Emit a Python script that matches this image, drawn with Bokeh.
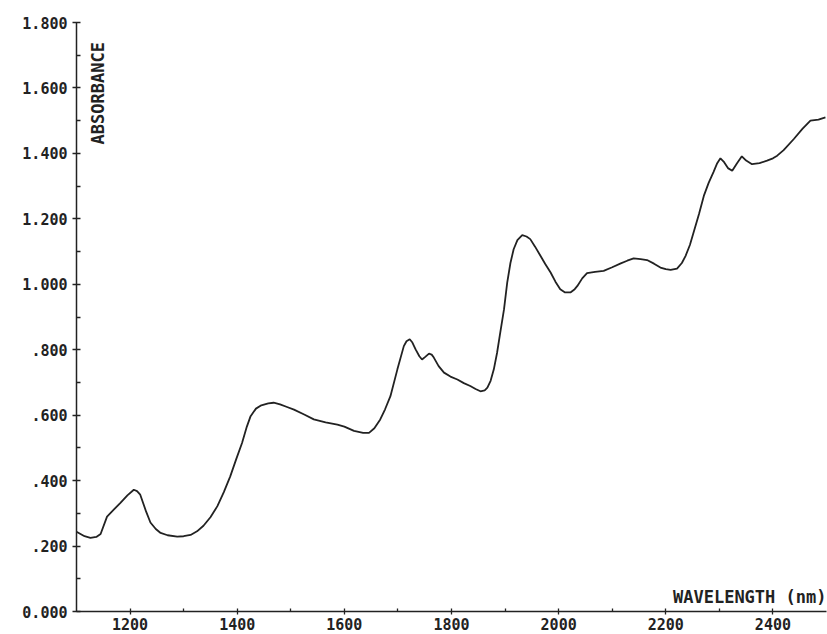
import math
from bokeh.plotting import figure
from bokeh.models import FixedTicker, Label, Range1d
from bokeh.embed import file_html
from bokeh.resources import INLINE

# ---- data ----
wavelength = [1100, 1115, 1126, 1137, 1145, 1157, 1170, 1182, 1195, 1207, 1213, 1219, 1230, 1238,
              1248, 1257, 1270, 1288, 1300, 1313, 1325, 1337, 1350, 1363, 1375, 1387, 1398, 1409,
              1418, 1425, 1435, 1445, 1458, 1468, 1480, 1493, 1506, 1525, 1543, 1565, 1587, 1600,
              1618, 1635, 1646, 1656, 1667, 1676, 1686, 1699, 1711, 1716, 1722, 1727, 1733, 1740,
              1745, 1751, 1758, 1763, 1767, 1776, 1786, 1798, 1811, 1823, 1835, 1845, 1854, 1862,
              1867, 1873, 1879, 1885, 1891, 1898, 1904, 1910, 1916, 1923, 1932, 1940, 1947, 1956,
              1966, 1975, 1985, 1994, 2003, 2012, 2022, 2030, 2035, 2044, 2053, 2068, 2084, 2100,
              2116, 2128, 2140, 2153, 2165, 2178, 2190, 2200, 2209, 2221, 2230, 2237, 2245, 2252,
              2262, 2271, 2280, 2289, 2296, 2302, 2308, 2316, 2324, 2333, 2342, 2350, 2361, 2375,
              2389, 2400, 2408, 2420, 2439, 2455, 2470, 2485, 2498]
absorbance = [0.244, 0.230, 0.225, 0.228, 0.237, 0.290, 0.312, 0.332, 0.355, 0.372, 0.368, 0.357,
              0.305, 0.272, 0.252, 0.240, 0.233, 0.229, 0.230, 0.234, 0.245, 0.262, 0.288, 0.322,
              0.365, 0.413, 0.465, 0.515, 0.565, 0.597, 0.620, 0.630, 0.636, 0.638, 0.633, 0.625,
              0.617, 0.602, 0.587, 0.578, 0.571, 0.565, 0.552, 0.546, 0.546, 0.560, 0.587, 0.618,
              0.658, 0.740, 0.811, 0.826, 0.832, 0.822, 0.801, 0.780, 0.770, 0.778, 0.788, 0.785,
              0.776, 0.750, 0.730, 0.718, 0.709, 0.698, 0.689, 0.680, 0.673, 0.676, 0.684, 0.705,
              0.740, 0.790, 0.852, 0.923, 1.005, 1.065, 1.107, 1.135, 1.150, 1.146, 1.138, 1.115,
              1.087, 1.062, 1.036, 1.008, 0.985, 0.975, 0.975, 0.985, 0.995, 1.018, 1.034, 1.038,
              1.041, 1.052, 1.064, 1.072, 1.079, 1.077, 1.074, 1.063, 1.051, 1.046, 1.044, 1.048,
              1.065, 1.087, 1.120, 1.159, 1.215, 1.270, 1.310, 1.343, 1.370, 1.385, 1.375, 1.355,
              1.347, 1.370, 1.391, 1.378, 1.367, 1.370, 1.378, 1.385, 1.393, 1.410, 1.444, 1.475,
              1.500, 1.503, 1.510]

x_ticks = [1200, 1400, 1600, 1800, 2000, 2200, 2400]
x_minor_ticks = [1300, 1500, 1700, 1900, 2100, 2300]
y_ticks = [0.0, 0.2, 0.4, 0.6, 0.8, 1.0, 1.2, 1.4, 1.6, 1.8]
y_tick_labels = ["0.000", ".200", ".400", ".600", ".800", "1.000", "1.200", "1.400", "1.600", "1.800"]
y_minor_ticks = [0.1, 0.3, 0.5, 0.7, 0.9, 1.1, 1.3, 1.5, 1.7]
x_title = "WAVELENGTH (nm)"
y_title = "ABSORBANCE"

INK = "#222222"
FONT = "DejaVu Sans Mono"

p = figure(width=827, height=634, output_backend="svg", toolbar_location=None,
           x_range=Range1d(1100, 2500), y_range=Range1d(0, 1.8),
           min_border_left=76, min_border_right=1, min_border_top=22, min_border_bottom=23)
p.outline_line_color = None
p.xgrid.visible = False
p.ygrid.visible = False
p.background_fill_color = "white"
p.border_fill_color = "white"

p.line(wavelength, absorbance, line_color=INK, line_width=1.8)

for ax in (p.xaxis[0], p.yaxis[0]):
    ax.axis_line_color = INK
    ax.axis_line_width = 1.5
    ax.major_tick_line_color = INK
    ax.minor_tick_line_color = INK
    ax.major_tick_line_width = 1.3
    ax.minor_tick_line_width = 1.3
    ax.major_label_text_font = FONT
    ax.major_label_text_font_style = "bold"
    ax.major_label_text_font_size = "15px"
    ax.major_label_text_color = INK

xa = p.xaxis[0]
xa.ticker = FixedTicker(ticks=x_ticks, minor_ticks=x_minor_ticks)
xa.major_tick_in = 3
xa.major_tick_out = 3
xa.minor_tick_in = 3
xa.minor_tick_out = 0
xa.major_label_standoff = 3

ya = p.yaxis[0]
ya.ticker = FixedTicker(ticks=y_ticks, minor_ticks=y_minor_ticks)
ya.major_label_overrides = {t: l for t, l in zip(y_ticks, y_tick_labels)}
ya.major_tick_in = 4
ya.major_tick_out = 4
ya.minor_tick_in = 4
ya.minor_tick_out = 0
ya.major_label_standoff = 5

p.add_layout(Label(x=p.x_range.end, y=0.044, text=x_title, text_align="right",
                   text_baseline="alphabetic", text_font=FONT, text_font_style="bold",
                   text_font_size="17px", text_color=INK))
p.add_layout(Label(x=1140, y=1.74, text=y_title, angle=math.pi / 2, text_align="right",
                   text_baseline="middle", text_font=FONT, text_font_style="bold",
                   text_font_size="17px", text_color=INK))

open("out.html", "w").write(file_html(p, INLINE))
